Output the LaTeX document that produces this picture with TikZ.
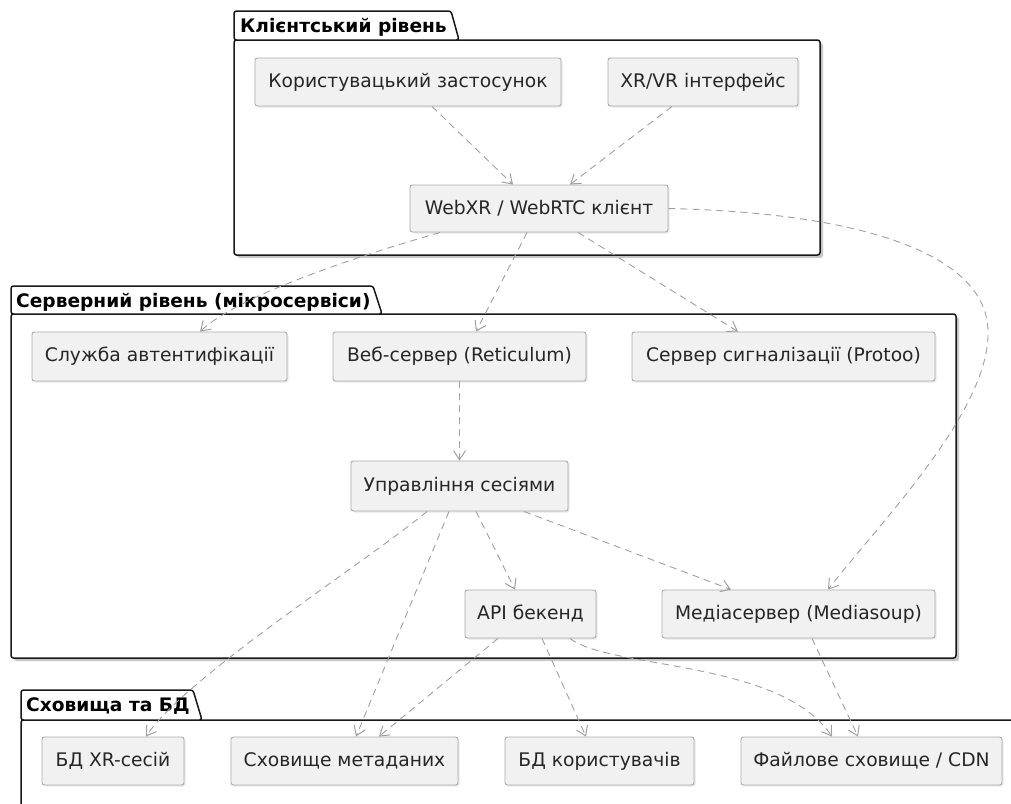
\documentclass[tikz,border=0pt]{standalone}
\usepackage{fontspec}
\setmainfont{DejaVu Sans}
\usetikzlibrary{arrows.meta,shadows,calc}
\definecolor{nodefill}{HTML}{F1F1F1}
\definecolor{nodeborder}{HTML}{ABABAB}
\definecolor{edgecol}{HTML}{A0A0A0}
\definecolor{pkgline}{HTML}{181818}
\begin{document}
\begin{tikzpicture}[x=1pt,y=-1pt,
  comp/.style={draw=nodeborder, fill=nodefill, rounded corners=2.5pt, line width=0.9pt,
    inner sep=0pt, font=\fontsize{18.7}{22}\selectfont, text=black!85,
    drop shadow={shadow xshift=1.5pt, shadow yshift=-1.5pt, opacity=0.18}},
  dep/.style={draw=edgecol, line width=0.9pt, dash pattern=on 7pt off 5pt,
    -{Straight Barb[length=9pt,width=12pt,line width=1pt]}},
  pkg/.style={draw=pkgline, line width=1.5pt, fill=white, rounded corners=2.5pt},
  pkgshadow/.style={fill=black, opacity=0.22, rounded corners=2.5pt},
  pkgtitle/.style={font=\fontsize{18.6}{22}\selectfont\bfseries, anchor=west, inner sep=0pt, text=black}
]
\useasboundingbox (0,0) rectangle (1011,803);
\clip (0,0) rectangle (1011,803);

% ---------- packages ----------
% Client layer
\fill[pkgshadow] (237,43) rectangle (823,258);
\draw[pkg] (234,40) rectangle (820,255);
\draw[pkg] (234,40) -- (234,11) -- (451,11) -- (459,40) -- cycle;
\node[pkgtitle] (p1t) at (240,27) {Клієнтський рівень};

% Server layer
\fill[pkgshadow] (14,317) rectangle (959,661);
\draw[pkg] (11,314) rectangle (956,658);
\draw[pkg] (11,314) -- (11,286) -- (373,286) -- (382,314) -- cycle;
\node[pkgtitle] (p2t) at (16,302) {Серверний рівень (мікросервіси)};

% Storage layer
\fill[pkgshadow] (24,723) rectangle (1040,840);
\draw[pkg] (21,720) rectangle (1035,835);
\draw[pkg] (21,720) -- (21,690) -- (193,690) -- (202,720) -- cycle;
\node[pkgtitle] (p3t) at (26,706) {Сховища та БД};

% ---------- components ----------
\node[comp, minimum width=306pt, minimum height=48pt] (n1) at (408,82) {Користувацький застосунок};
\node[comp, minimum width=190pt, minimum height=48pt] (n2) at (703,82) {XR/VR інтерфейс};
\node[comp, minimum width=258pt, minimum height=47pt] (n3) at (539,208.5) {WebXR / WebRTC клієнт};

\node[comp, minimum width=255pt, minimum height=49pt] (s1) at (159.5,356.5) {Служба автентифікації};
\node[comp, minimum width=253pt, minimum height=49pt] (s2) at (459.5,356.5) {Веб-сервер (Reticulum)};
\node[comp, minimum width=303pt, minimum height=49pt] (s3) at (783.5,356.5) {Сервер сигналізації (Protoo)};
\node[comp, minimum width=217pt, minimum height=50pt] (s4) at (459.5,486) {Управління сесіями};
\node[comp, minimum width=131pt, minimum height=48pt] (s5) at (530.5,614) {API бекенд};
\node[comp, minimum width=273pt, minimum height=48pt] (s6) at (798.5,614) {Медіасервер (Mediasoup)};

\node[comp, minimum width=142pt, minimum height=48pt] (d1) at (113,761) {БД XR-сесій};
\node[comp, minimum width=227pt, minimum height=48pt] (d2) at (344.5,761) {Сховище метаданих};
\node[comp, minimum width=189pt, minimum height=48pt] (d3) at (599.5,761) {БД користувачів};
\node[comp, minimum width=261pt, minimum height=48pt] (d4) at (871.5,761) {Файлове сховище / CDN};

% ---------- connectors ----------
\draw[dep] ([xshift=24pt]n1.south) -- ([xshift=-26pt]n3.north);
\draw[dep] ([xshift=-31pt]n2.south) -- ([xshift=31pt]n3.north);

\draw[dep] ([xshift=-99pt]n3.south) .. controls +(-80,23) and +(40,-37) .. ([xshift=40.5pt]s1.north);
\draw[dep] ([xshift=-12pt]n3.south) -- ([xshift=16.5pt]s2.north);
\draw[dep] ([xshift=39pt]n3.south) -- ([xshift=-45.5pt]s3.north);
\draw[dep] (n3.east) .. controls +(182,4) and +(-3,-80) .. (988,330)
  .. controls +(3,80) and +(52,-67) .. ([xshift=29.5pt]s6.north);

\draw[dep] (s2.south) -- (s4.north);
\draw[dep] ([xshift=16.5pt]s4.south) -- ([xshift=-15.5pt]s5.north);
\draw[dep] ([xshift=64.5pt]s4.south) -- ([xshift=-67.5pt]s6.north);
\draw[dep] ([xshift=-32.5pt]s4.south) .. controls +(-60,50) and +(40,-60) .. ([xshift=33pt]d1.north);
\draw[dep] ([xshift=-10.5pt]s4.south) -- ([xshift=11.5pt]d2.north);

\draw[dep] ([xshift=-32.5pt]s5.south) -- ([xshift=34.5pt]d2.north);
\draw[dep] ([xshift=11.5pt]s5.south) -- ([xshift=-13.5pt]d3.north);
\draw[dep] ([xshift=39.5pt]s5.south) .. controls +(40,31) and +(-52,-77) .. ([xshift=-39.5pt]d4.north);
\draw[dep] ([xshift=13.5pt]s6.south) -- ([xshift=-13.5pt]d4.north);
\end{tikzpicture}
\end{document}
